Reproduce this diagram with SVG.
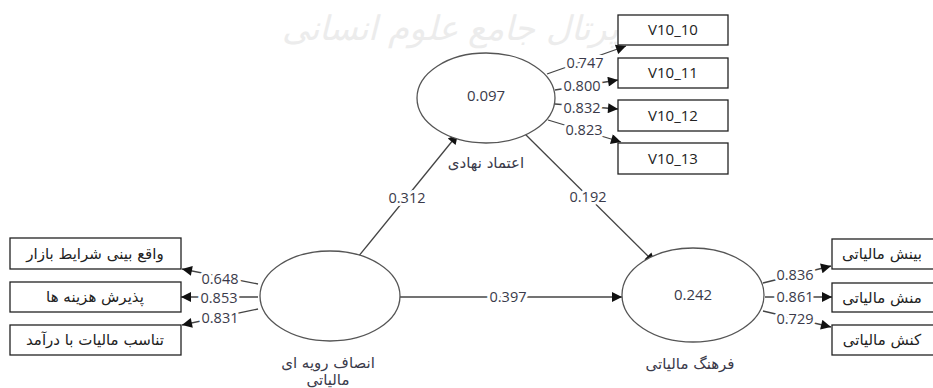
<svg xmlns="http://www.w3.org/2000/svg" width="933" height="388" viewBox="0 0 933 388">
<style>
.bg{fill:#fff}
.wm{fill:#ececec;font-family:"DejaVu Serif","DejaVu Sans",serif;font-size:34px;font-style:italic}
.ell{fill:#fff;stroke:#555;stroke-width:1.3}
.box{fill:#fff;stroke:#222;stroke-width:1.3}
.ln{stroke:#444;stroke-width:1.3;fill:none;marker-end:url(#ah)}
.num{font-family:"Open Sans","Liberation Sans",sans-serif;font-size:14.5px;fill:#3a3a4a;text-anchor:middle;stroke:#fff;stroke-width:6px;paint-order:stroke;stroke-linejoin:round}
.val{font-family:"Open Sans","Liberation Sans",sans-serif;font-size:15px;fill:#3a3a4a;text-anchor:middle}
.lbl{font-family:"Open Sans","Liberation Sans",sans-serif;font-size:15px;fill:#222;text-anchor:middle}
.ar{font-family:"DejaVu Sans","Noto Sans",sans-serif;font-size:15px;fill:#222;text-anchor:middle}
.arc{font-family:"DejaVu Sans","Noto Sans",sans-serif;font-size:15px;fill:#3a3a4a;text-anchor:middle}
</style>
<defs>
<marker id="ah" viewBox="0 0 10 10" refX="10" refY="5" markerWidth="12" markerHeight="10" markerUnits="userSpaceOnUse" orient="auto">
<path d="M0,0 L10,5 L0,10 z" fill="#111"/>
</marker>
</defs>
<rect class="bg" x="0" y="0" width="933" height="388"/>
<text class="wm" x="450" y="40" text-anchor="middle">پرتال جامع علوم انسانی</text>

<g id="connectors">
<line class="ln" x1="358" y1="257" x2="458" y2="134"/>
<line class="ln" x1="525" y1="134" x2="655" y2="263"/>
<line class="ln" x1="400" y1="297" x2="622" y2="297"/>
<line class="ln" x1="547" y1="74" x2="626" y2="46"/>
<line class="ln" x1="555" y1="90" x2="618" y2="80"/>
<line class="ln" x1="555" y1="104" x2="618" y2="109"/>
<line class="ln" x1="548" y1="120" x2="621" y2="142"/>
<line class="ln" x1="258" y1="284" x2="182" y2="269"/>
<line class="ln" x1="258" y1="297" x2="181" y2="297"/>
<line class="ln" x1="258" y1="309" x2="182" y2="325"/>
<line class="ln" x1="763" y1="283" x2="831" y2="266"/>
<line class="ln" x1="765" y1="297" x2="832" y2="297"/>
<line class="ln" x1="763" y1="311" x2="831" y2="327"/>
<text class="num" x="407" y="203">0.312</text>
<text class="num" x="588" y="202">0.192</text>
<text class="num" x="508" y="302">0.397</text>
<text class="num" x="585" y="68">0.747</text>
<text class="num" x="582" y="91">0.800</text>
<text class="num" x="582" y="113">0.832</text>
<text class="num" x="584" y="135">0.823</text>
<text class="num" x="220" y="284">0.648</text>
<text class="num" x="219" y="303">0.853</text>
<text class="num" x="220" y="323">0.831</text>
<text class="num" x="795" y="280">0.836</text>
<text class="num" x="795" y="302">0.861</text>
<text class="num" x="795" y="324">0.729</text>
</g>

<g id="trust">
<ellipse class="ell" cx="486" cy="98" rx="69" ry="45"/>
<text class="val" x="486" y="101">0.097</text>
<text class="arc" x="486" y="168">اعتماد نهادی</text>
</g>
<g id="fairness">
<ellipse class="ell" cx="330" cy="296" rx="70" ry="45"/>
<text class="arc" x="328" y="368">انصاف رویه ای</text>
<text class="arc" x="328" y="385">مالیاتی</text>
</g>
<g id="culture">
<ellipse class="ell" cx="693" cy="295" rx="71" ry="47"/>
<text class="val" x="693" y="300">0.242</text>
<text class="arc" x="690" y="369">فرهنگ مالیاتی</text>
</g>

<g id="v10_10"><rect class="box" x="618" y="15" width="110" height="30"/><text class="lbl" x="673" y="35">V10_10</text></g>
<g id="v10_11"><rect class="box" x="618" y="58" width="110" height="30"/><text class="lbl" x="673" y="78">V10_11</text></g>
<g id="v10_12"><rect class="box" x="618" y="100" width="110" height="31"/><text class="lbl" x="673" y="121">V10_12</text></g>
<g id="v10_13"><rect class="box" x="618" y="143" width="110" height="31"/><text class="lbl" x="673" y="164">V10_13</text></g>

<g id="market"><rect class="box" x="10" y="238" width="171" height="31"/><text class="ar" x="95" y="259">واقع بینی شرایط بازار</text></g>
<g id="cost"><rect class="box" x="10" y="282" width="171" height="30"/><text class="ar" x="95" y="302">پذیرش هزینه ها</text></g>
<g id="ratio"><rect class="box" x="10" y="325" width="171" height="30"/><text class="ar" x="95" y="345">تناسب مالیات با درآمد</text></g>

<g id="insight"><rect class="box" x="832" y="239" width="170" height="30"/><text class="ar" x="882" y="259">بینش مالیاتی</text></g>
<g id="character"><rect class="box" x="832" y="283" width="170" height="29"/><text class="ar" x="882" y="303">منش مالیاتی</text></g>
<g id="action"><rect class="box" x="832" y="325" width="170" height="30"/><text class="ar" x="882" y="345">کنش مالیاتی</text></g>
</svg>
